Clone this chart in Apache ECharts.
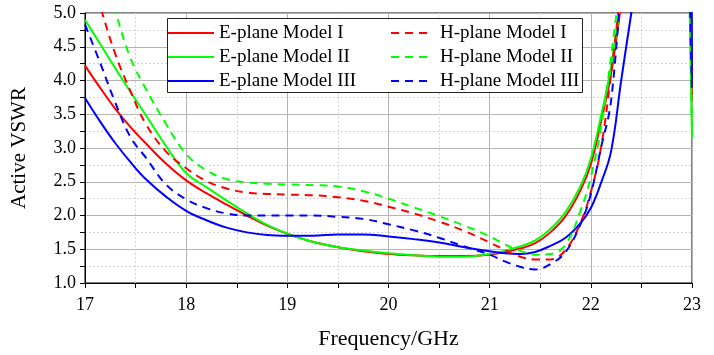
<!DOCTYPE html>
<html>
<head>
<meta charset="utf-8">
<script src="https://cdn.jsdelivr.net/npm/echarts@6/dist/echarts.min.js"></script>
<style>html,body{margin:0;padding:0;background:#fff;}#c{width:714px;height:355px;}</style>
</head>
<body>
<div id="c"></div>
<script>
var freq = [17, 17.15, 17.3, 17.45, 17.6, 17.8, 18, 18.2, 18.4, 18.6, 18.8, 19, 19.25, 19.5, 19.75, 20, 20.25, 20.5, 20.75, 21, 21.15, 21.3, 21.45, 21.6, 21.75, 21.9, 22, 22.1, 22.2, 22.3, 22.4, 22.5, 22.96, 23];
var ePlaneI   = [4.22, 3.89, 3.58, 3.31, 3.07, 2.77, 2.52, 2.33, 2.16, 2.00, 1.85, 1.73, 1.61, 1.53, 1.47, 1.43, 1.41, 1.40, 1.40, 1.42, 1.46, 1.51, 1.59, 1.75, 1.99, 2.38, 2.76, 3.38, 4.10, 5.15, '-', '-', 6.5, 3.7];
var ePlaneII  = [4.90, 4.54, 4.18, 3.83, 3.49, 3.03, 2.63, 2.42, 2.22, 2.03, 1.86, 1.73, 1.61, 1.53, 1.48, 1.44, 1.41, 1.39, 1.39, 1.43, 1.48, 1.54, 1.63, 1.80, 2.05, 2.44, 2.84, 3.47, 4.20, 5.25, '-', '-', 6.5, 3.15];
var ePlaneIII = [3.74, 3.39, 3.07, 2.79, 2.54, 2.28, 2.07, 1.93, 1.82, 1.75, 1.71, 1.70, 1.70, 1.72, 1.72, 1.69, 1.65, 1.60, 1.53, 1.47, 1.44, 1.43, 1.46, 1.55, 1.67, 1.89, 2.11, 2.48, 2.95, 4.00, 5.00, 6.0, 6.5, 3.95];
var hPlaneI   = [5.85, 5.10, 4.39, 3.84, 3.36, 2.95, 2.70, 2.51, 2.40, 2.34, 2.32, 2.31, 2.30, 2.27, 2.22, 2.13, 2.03, 1.91, 1.77, 1.60, 1.49, 1.39, 1.35, 1.35, 1.49, 1.90, 2.35, 3.0, 4.1, 5.4, '-', '-', 6.5, 3.85];
var hPlaneII  = [6.5, 5.75, 5.02, 4.33, 3.88, 3.36, 2.91, 2.67, 2.54, 2.49, 2.47, 2.46, 2.45, 2.43, 2.36, 2.25, 2.12, 1.99, 1.85, 1.69, 1.57, 1.48, 1.42, 1.43, 1.57, 2.08, 2.57, 3.3, 4.35, 5.6, '-', '-', 6.5, 3.3];
var hPlaneIII = [4.83, 4.26, 3.67, 3.16, 2.86, 2.46, 2.24, 2.11, 2.03, 2.00, 2.00, 2.00, 2.00, 1.98, 1.95, 1.87, 1.78, 1.67, 1.54, 1.42, 1.32, 1.24, 1.20, 1.28, 1.46, 1.88, 2.32, 3.0, 3.7, 5.5, '-', '-', 6.5, 3.8];

var names = ['E-plane Model I', 'E-plane Model II', 'E-plane Model III', 'H-plane Model I', 'H-plane Model II', 'H-plane Model III'];
var values = [ePlaneI, ePlaneII, ePlaneIII, hPlaneI, hPlaneII, hPlaneIII];
var colors = ['#ff0000', '#00ff00', '#0000ff', '#ff0000', '#00ff00', '#0000ff'];
var FONT = 'Liberation Serif';

function pairs(v) { return freq.map(function (f, i) { return [f, v[i]]; }); }

var series = names.map(function (n, i) {
  return {
    name: n, type: 'line', data: pairs(values[i]),
    smooth: 0.4, showSymbol: false, symbol: 'none',
    connectNulls: false, clip: true, z: 2,
    lineStyle: { color: colors[i], width: 2, type: i < 3 ? 'solid' : [8, 6] },
    itemStyle: { color: colors[i] }
  };
});

var legendCommon = {
  orient: 'vertical', top: 23, padding: 0, itemHeight: 14, itemGap: 4, z: 5,
  itemStyle: { opacity: 0, borderWidth: 0 },
  textStyle: { fontFamily: FONT, fontSize: 19, color: '#000', lineHeight: 20 }
};

var chart = echarts.init(document.getElementById('c'));
chart.setOption({
  animation: false,
  backgroundColor: '#fff',
  grid: { left: 85, right: 22, top: 13, bottom: 69, show: true, borderColor: '#000', borderWidth: 1, backgroundColor: 'transparent' },
  xAxis: {
    type: 'value', min: 17, max: 23, interval: 1,
    name: 'Frequency/GHz', nameLocation: 'middle', nameGap: 45,
    nameTextStyle: { fontFamily: FONT, fontSize: 22, color: '#000' },
    axisLine: { lineStyle: { color: '#000', width: 1 } },
    axisTick: { show: true, length: 5, lineStyle: { color: '#000' } },
    minorTick: { show: true, splitNumber: 2, length: 5, lineStyle: { color: '#000' } },
    axisLabel: { fontFamily: FONT, fontSize: 18, color: '#000', margin: 13 },
    splitLine: { show: true, lineStyle: { color: '#b4b4b4', width: 1 } },
    minorSplitLine: { show: true, lineStyle: { color: '#d4d4d4', type: [2, 2], width: 1 } }
  },
  yAxis: {
    type: 'value', min: 1, max: 5, interval: 0.5,
    name: 'Active VSWR', nameLocation: 'middle', nameGap: 55,
    nameTextStyle: { fontFamily: FONT, fontSize: 21, color: '#000' },
    axisLine: { show: true, lineStyle: { color: '#000', width: 1 } },
    axisTick: { show: true, length: 5, lineStyle: { color: '#000' } },
    minorTick: { show: true, splitNumber: 2, length: 5, lineStyle: { color: '#000' } },
    axisLabel: { fontFamily: FONT, fontSize: 18, color: '#000', margin: 9, formatter: function (v) { return v.toFixed(1); } },
    splitLine: { show: true, lineStyle: { color: '#b4b4b4', width: 1 } },
    minorSplitLine: { show: true, lineStyle: { color: '#d4d4d4', type: [2, 2], width: 1 } }
  },
  graphic: [{
    type: 'rect', z: 3, silent: true,
    shape: { x: 167.5, y: 18.5, width: 415, height: 74 },
    style: { fill: '#fff', stroke: '#222', lineWidth: 1 }
  }],
  legend: [
    Object.assign({}, legendCommon, { data: names.slice(0, 3), left: 167, itemWidth: 46 }),
    Object.assign({}, legendCommon, { data: names.slice(3), left: 390, itemWidth: 41,
      textStyle: { fontFamily: FONT, fontSize: 19, color: '#000', lineHeight: 20, padding: [0, 0, 0, 3] } })
  ],
  series: series
});
</script>
</body>
</html>
